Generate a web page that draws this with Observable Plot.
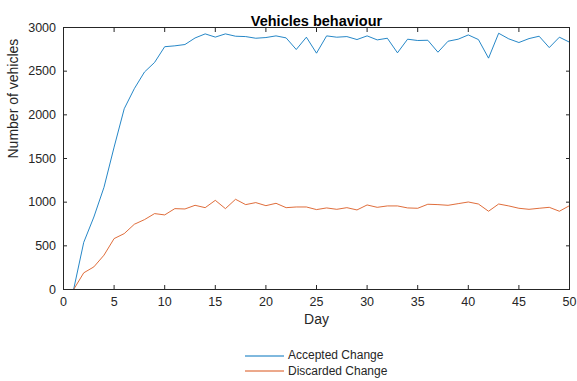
<!DOCTYPE html>
<html>
<head>
<meta charset="utf-8">
<script src="https://cdn.jsdelivr.net/npm/d3@7"></script>
<script src="https://cdn.jsdelivr.net/npm/@observablehq/plot@0.6"></script>
<style>
  html, body { margin: 0; padding: 0; background: #fff; }
  #chart { position: relative; width: 577px; height: 381px; font-family: "Liberation Sans", Arial, sans-serif; color: #262626; }
  #legend { position: absolute; left: 245px; top: 348px; font-size: 12px; }
  #legend .row { display: flex; align-items: center; height: 15.5px; line-height: 15.5px; }
  #legend svg { margin-right: 4px; }
</style>
</head>
<body>
<div id="chart"></div>
<script>
// Daily counts of lane-change decisions
const days = d3.range(1, 51);
const accepted = [
  0, 540, 830, 1170, 1630, 2070, 2300, 2490, 2600, 2780,
  2790, 2805, 2880, 2927, 2890, 2927, 2900, 2896, 2877, 2885,
  2904, 2881, 2748, 2889, 2706, 2904, 2889, 2896, 2862, 2904,
  2858, 2877, 2710, 2866, 2851, 2854, 2717, 2843, 2866, 2915,
  2862, 2649, 2934, 2870, 2828, 2873, 2900, 2770, 2889, 2832
];
const discarded = [
  0, 191, 259, 393, 583, 640, 747, 800, 869, 854,
  926, 922, 964, 937, 1021, 926, 1033, 972, 995, 960,
  987, 937, 945, 945, 915, 934, 918, 937, 911, 968,
  941, 957, 957, 934, 930, 976, 972, 964, 983, 1002,
  979, 896, 979, 957, 930, 918, 930, 941, 896, 960
];
const seriesNames = ["Accepted Change", "Discarded Change"];
const seriesColors = ["#0072BD", "#D95319"];
const xTicks = d3.range(0, 51, 5);
const yTicks = d3.range(0, 3001, 500);

const rows = [
  ...days.map((d, i) => ({day: d, value: accepted[i], series: seriesNames[0]})),
  ...days.map((d, i) => ({day: d, value: discarded[i], series: seriesNames[1]}))
];

const ink = "#262626";
const font = "Liberation Sans, Arial, sans-serif";
const plain = d3.format("d");

const plot = Plot.plot({
  width: 577,
  height: 342,
  marginTop: 27,
  marginBottom: 53,
  marginLeft: 63,
  marginRight: 8,
  style: {fontFamily: font, fontSize: "12.5px", color: ink, background: "#fff"},
  x: {domain: [0, 50], ticks: xTicks},
  y: {domain: [0, 3000], ticks: yTicks},
  color: {domain: seriesNames, range: seriesColors},
  marks: [
    Plot.line(rows, {x: "day", y: "value", z: "series", stroke: "series", strokeWidth: 1, strokeOpacity: 0.85}),
    Plot.frame({stroke: ink, strokeWidth: 1}),
    Plot.axisX({anchor: "bottom", ticks: xTicks, tickFormat: plain, tickSize: -4, tickPadding: 12, stroke: ink, fill: ink, label: null}),
    Plot.axisX({anchor: "top", ticks: xTicks, tickSize: -4, tickFormat: () => "", stroke: ink, label: null}),
    Plot.axisY({anchor: "left", ticks: yTicks, tickFormat: plain, tickSize: -4, tickPadding: 11.5, stroke: ink, fill: ink, label: null}),
    Plot.axisY({anchor: "right", ticks: yTicks, tickSize: -4, tickFormat: () => "", stroke: ink, label: null}),
    Plot.text(["Vehicles behaviour"], {frameAnchor: "top", dy: -12, fontWeight: "bold", fontSize: 14.5, fill: "#000"}),
    Plot.text(["Day"], {frameAnchor: "bottom", dy: 34, fontSize: 14, fill: ink}),
    Plot.text(["Number of vehicles"], {frameAnchor: "left", dx: -50, rotate: -90, fontSize: 14, fill: ink})
  ]
});

const chart = document.getElementById("chart");
chart.appendChild(plot);

// Legend below the plot
const legend = document.createElement("div");
legend.id = "legend";
seriesNames.forEach((name, i) => {
  const row = document.createElement("div");
  row.className = "row";
  row.innerHTML = `<svg width="39" height="4"><line x1="0" x2="39" y1="2" y2="2" stroke="${seriesColors[i]}" stroke-width="1"/></svg><span>${name}</span>`;
  legend.appendChild(row);
});
chart.appendChild(legend);
</script>
</body>
</html>
